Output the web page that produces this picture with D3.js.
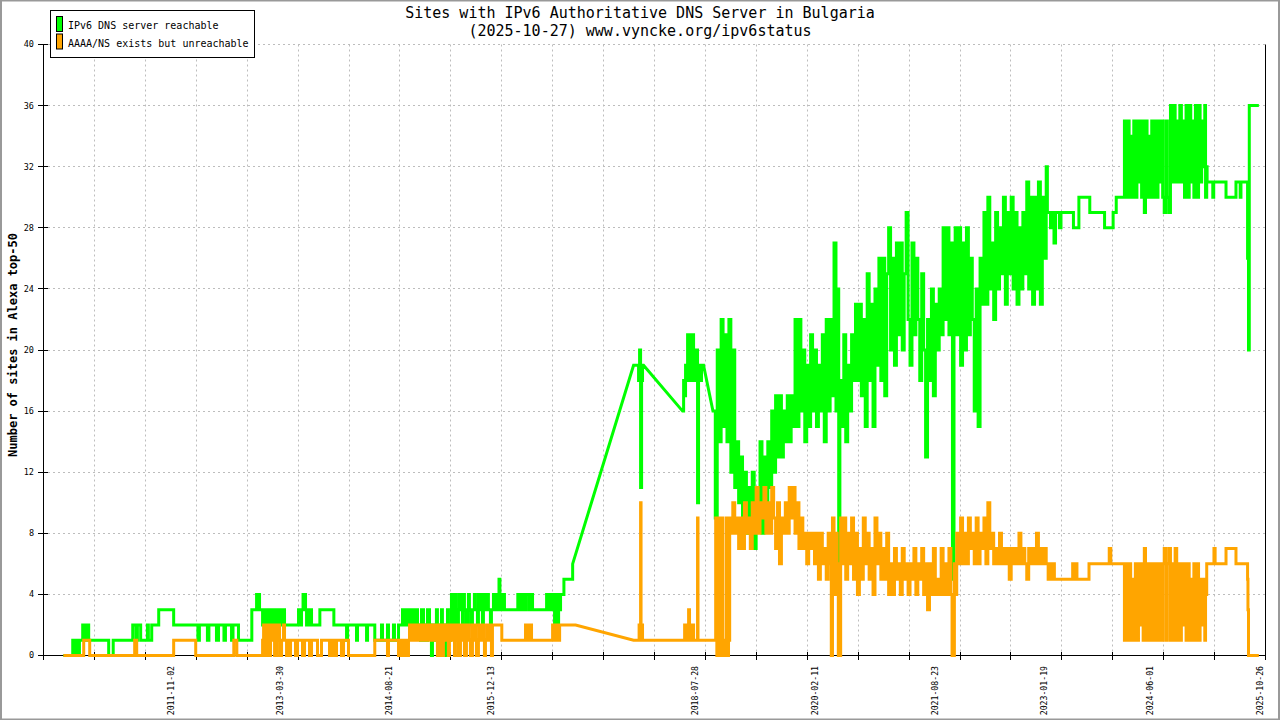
<!DOCTYPE html>
<html><head><meta charset="utf-8">
<script src="https://cdn.jsdelivr.net/npm/d3@7"></script>
<style>body{margin:0;background:#fff}svg{display:block}</style>
</head><body><svg id="c" width="1280" height="720"></svg>
<script>
// ---- DATA (decimal year, number of sites) ----
const titleLines = ["Sites with IPv6 Authoritative DNS Server in Bulgaria", "(2025-10-27) www.vyncke.org/ipv6status"];
const yAxisTitle = "Number of sites in Alexa top-50";
const seriesNames = ["IPv6 DNS server reachable", "AAAA/NS exists but unreachable"];
const yTickValues = [0,4,8,12,16,20,24,28,32,36,40];
const xLabelDates = ["2011-11-02","2013-03-30","2014-08-21","2015-12-13","2018-07-28","2020-02-11","2021-08-23","2023-01-19","2024-06-01","2025-10-26"];
const xDomain = ["2010-03-14","2025-11-22"];

const reachable = [
[2010.453,0],[2010.569,0],[2010.573,1],[2010.595,0],[2010.614,1],[2010.633,0],[2010.659,1],[2010.698,1],[2010.701,2],[2010.723,1],[2010.742,2],[2010.775,2],[2010.778,1],[2011.031,1],[2011.035,0],[2011.089,0],[2011.093,1],[2011.340,1],[2011.344,2],[2011.378,2],[2011.385,1],[2011.404,2],[2011.443,2],[2011.446,1],[2011.520,1],[2011.533,2],[2011.545,1],[2011.584,1],[2011.588,2],[2011.674,2],[2011.678,3],[2011.866,3],[2011.870,2],[2012.175,2],[2012.181,1],[2012.200,2],[2012.290,2],[2012.303,1],[2012.322,2],[2012.406,2],[2012.419,1],[2012.445,2],[2012.496,2],[2012.515,1],[2012.534,2],[2012.599,2],[2012.612,1],[2012.631,2],[2012.689,2],[2012.701,1],[2012.868,1],[2012.872,3],[2012.907,3],[2012.933,4],[2012.958,4],[2012.971,3],[2013.010,2],[2013.023,3],[2013.048,2],[2013.067,3],[2013.087,2],[2013.100,3],[2013.125,2],[2013.138,3],[2013.164,2],[2013.177,3],[2013.202,2],[2013.228,3],[2013.254,2],[2013.267,3],[2013.292,2],[2013.318,2],[2013.459,2],[2013.472,3],[2013.498,2],[2013.510,3],[2013.530,4],[2013.549,4],[2013.562,3],[2013.575,2],[2013.588,3],[2013.601,2],[2013.613,3],[2013.639,2],[2013.742,2],[2013.746,3],[2013.922,3],[2013.926,2],[2014.076,2],[2014.089,1],[2014.102,2],[2014.204,2],[2014.217,1],[2014.230,2],[2014.333,2],[2014.346,1],[2014.359,2],[2014.448,2],[2014.452,1],[2014.525,1],[2014.538,2],[2014.551,1],[2014.602,1],[2014.615,2],[2014.628,1],[2014.680,1],[2014.692,2],[2014.705,1],[2014.744,1],[2014.757,2],[2014.795,2],[2014.808,3],[2014.821,2],[2014.846,3],[2014.859,2],[2014.885,3],[2014.911,2],[2014.936,3],[2014.949,2],[2014.975,3],[2015.001,2],[2015.026,2],[2015.039,1],[2015.052,3],[2015.078,1],[2015.090,2],[2015.116,1],[2015.129,3],[2015.155,2],[2015.180,0],[2015.193,2],[2015.219,1],[2015.244,3],[2015.257,1],[2015.283,0],[2015.296,2],[2015.309,3],[2015.321,1],[2015.347,0],[2015.360,2],[2015.386,3],[2015.398,1],[2015.424,2],[2015.437,4],[2015.450,2],[2015.476,3],[2015.488,4],[2015.501,2],[2015.527,3],[2015.540,4],[2015.553,3],[2015.578,2],[2015.591,4],[2015.604,3],[2015.630,2],[2015.655,4],[2015.668,3],[2015.694,2],[2015.707,3],[2015.732,4],[2015.745,3],[2015.771,2],[2015.784,4],[2015.810,3],[2015.835,2],[2015.848,4],[2015.874,3],[2015.887,4],[2015.912,3],[2015.938,2],[2015.951,3],[2015.977,4],[2015.990,3],[2016.015,4],[2016.028,3],[2016.048,5],[2016.060,4],[2016.080,3],[2016.105,4],[2016.118,3],[2016.285,3],[2016.289,4],[2016.311,3],[2016.337,4],[2016.362,3],[2016.388,4],[2016.414,4],[2016.427,3],[2016.452,4],[2016.478,3],[2016.645,3],[2016.658,4],[2016.683,3],[2016.696,4],[2016.722,3],[2016.735,4],[2016.760,2],[2016.773,4],[2016.799,2],[2016.812,3],[2016.837,4],[2016.876,4],[2016.880,5],[2016.979,5],[2016.992,6],
[2017.775,19],[2017.826,19],[2017.839,18],[2017.852,20],[2017.865,11],[2017.878,18],[2017.890,19],[2017.903,19],[2018.405,16],[2018.418,18],[2018.431,17],[2018.443,19],[2018.456,18],[2018.469,21],[2018.482,19],[2018.494,21],[2018.507,18],[2018.520,20],[2018.533,21],[2018.546,18],[2018.559,20],[2018.571,19],[2018.584,20],[2018.597,10],[2018.610,19],[2018.636,18],[2018.648,19],[2018.674,19],[2018.795,16],
[2018.825,9],[2018.85,20],[2018.875,14],[2018.9,22],[2018.925,15],[2018.95,21],[2018.975,14],[2019,22],[2019.025,12],[2019.05,20],[2019.075,11],[2019.1,14],[2019.125,10],[2019.15,13],[2019.175,8],[2019.2,12],[2019.225,8],[2019.25,11],[2019.275,8],[2019.3,12],[2019.325,7],[2019.35,11],[2019.375,9],[2019.4,14],[2019.425,8],[2019.45,13],[2019.475,9],[2019.5,14],[2019.525,11],[2019.55,16],[2019.575,12],[2019.6,17],[2019.625,13],[2019.65,17],[2019.675,13],[2019.7,16],[2019.725,14],[2019.75,17],[2019.775,14],[2019.8,17],[2019.825,15],[2019.85,22],[2019.875,15],[2019.9,22],[2019.925,16],[2019.95,20],[2019.975,14],[2020,19],[2020.025,15],[2020.05,21],[2020.075,16],[2020.1,20],[2020.125,15],[2020.15,19],[2020.175,16],[2020.2,21],[2020.225,14],[2020.25,22],[2020.275,16],[2020.3,22],[2020.325,17],[2020.35,27],[2020.375,16],[2020.4,24],[2020.41,5],[2020.425,18],[2020.45,15],[2020.475,21],[2020.5,14],[2020.525,19],[2020.55,16],[2020.575,21],[2020.6,18],[2020.625,23],[2020.65,18],[2020.675,23],[2020.7,17],[2020.725,22],[2020.75,15],[2020.775,25],[2020.8,18],[2020.825,23],[2020.85,15],[2020.875,24],[2020.9,19],[2020.925,26],[2020.95,18],[2020.975,26],[2021,17],[2021.025,25],[2021.05,28],[2021.075,20],[2021.1,26],[2021.125,19],[2021.15,27],[2021.175,21],[2021.2,27],[2021.225,20],[2021.25,25],[2021.275,29],[2021.3,22],[2021.325,19],[2021.35,27],[2021.375,21],[2021.4,26],[2021.425,22],[2021.45,18],[2021.475,25],[2021.5,20],[2021.525,13],[2021.55,22],[2021.575,18],[2021.6,24],[2021.625,17],[2021.65,23],[2021.675,20],[2021.7,24],[2021.725,21],[2021.75,28],[2021.775,22],[2021.8,28],[2021.825,21],[2021.85,27],[2021.87,5],[2021.89,24],[2021.905,28],[2021.925,21],[2021.95,28],[2021.975,19],[2022,27],[2022.025,20],[2022.05,28],[2022.075,21],[2022.1,26],[2022.125,22],[2022.15,16],[2022.175,24],[2022.2,15],[2022.225,26],[2022.25,23],[2022.275,29],[2022.3,23],[2022.325,30],[2022.35,24],[2022.375,27],[2022.4,22],[2022.425,29],[2022.45,24],[2022.475,28],[2022.5,25],[2022.525,30],[2022.55,23],[2022.575,29],[2022.6,25],[2022.625,30],[2022.65,24],[2022.675,29],[2022.7,23],[2022.725,28],[2022.75,24],[2022.775,29],[2022.8,25],[2022.825,31],[2022.85,24],[2022.875,30],[2022.9,23],[2022.925,30],[2022.95,24],[2022.975,31],[2023,23],[2023.025,30],[2023.05,26],[2023.075,32],[2023.09,29],
[2023.125,29],[2023.13,28],[2023.14,28],[2023.145,29],[2023.17,29],[2023.175,27],[2023.19,27],[2023.195,29],[2023.24,29],[2023.245,28],[2023.26,28],[2023.265,29],[2023.42,29],[2023.425,28],[2023.49,28],[2023.495,30],[2023.63,30],[2023.635,29],[2023.82,29],[2023.825,28],[2023.93,28],[2023.935,29],[2023.97,29],[2023.975,30],[2024.07,30],
[2024.08,35],[2024.1,30],[2024.12,35],[2024.14,30],[2024.16,34],[2024.18,30],[2024.2,35],[2024.22,30],[2024.24,35],[2024.26,31],[2024.28,35],[2024.3,30],[2024.32,35],[2024.335,29],[2024.35,35],[2024.37,30],[2024.39,34],[2024.41,30],[2024.43,35],[2024.45,30],[2024.47,35],[2024.49,30],[2024.51,35],[2024.53,31],[2024.55,35],[2024.57,30],[2024.59,29],[2024.61,35],[2024.63,30],[2024.65,29],[2024.67,36],[2024.69,31],[2024.71,36],[2024.73,31],[2024.75,35],[2024.77,31],[2024.79,36],[2024.81,31],[2024.83,35],[2024.85,30],[2024.87,36],[2024.89,30],[2024.91,36],[2024.93,31],[2024.95,35],[2024.97,30],[2024.99,36],[2025.01,30],[2025.03,36],[2025.05,31],[2025.07,35],[2025.09,32],[2025.11,36],[2025.12,30],[2025.135,32],[2025.14,31],
[2025.15,31],[2025.21,31],[2025.213,30],[2025.22,30],[2025.225,31],[2025.379,31],[2025.383,30],[2025.507,30],[2025.511,31],[2025.56,31],[2025.565,30],[2025.575,31],[2025.65,31],[2025.66,26],[2025.672,20],[2025.682,36],[2025.805,36]
];

const unreachable = [
[2010.453,0],[2010.710,0],[2010.714,1],[2010.787,1],[2010.791,0],[2011.365,0],[2011.369,1],[2011.391,1],[2011.395,0],[2011.866,0],[2011.870,1],[2012.149,1],[2012.153,0],[2012.637,0],[2012.641,1],[2012.676,1],[2012.680,0],[2012.997,0],[2013.010,1],[2013.023,2],[2013.035,0],[2013.061,2],[2013.074,1],[2013.087,0],[2013.112,2],[2013.125,1],[2013.151,2],[2013.164,0],[2013.189,1],[2013.202,2],[2013.228,0],[2013.254,1],[2013.279,2],[2013.292,1],[2013.318,0],[2013.344,1],[2013.357,0],[2013.369,1],[2013.421,1],[2013.433,0],[2013.459,1],[2013.510,1],[2013.523,0],[2013.549,1],[2013.601,1],[2013.613,0],[2013.639,1],[2013.703,1],[2013.716,0],[2013.754,0],[2013.767,1],[2013.857,1],[2013.870,0],[2013.896,1],[2013.922,1],[2013.934,0],[2013.960,1],[2014.011,1],[2014.024,0],[2014.050,1],[2014.102,1],[2014.114,0],[2014.448,0],[2014.452,1],[2014.602,1],[2014.615,0],[2014.628,1],[2014.744,1],[2014.757,0],[2014.782,1],[2014.808,0],[2014.834,1],[2014.859,0],[2014.885,1],[2014.898,2],[2014.911,1],[2014.936,2],[2014.949,1],[2014.975,2],[2014.988,1],[2015.013,2],[2015.026,1],[2015.052,2],[2015.065,1],[2015.090,2],[2015.103,1],[2015.129,2],[2015.142,1],[2015.167,2],[2015.180,1],[2015.206,2],[2015.219,1],[2015.244,2],[2015.257,0],[2015.283,2],[2015.296,1],[2015.321,0],[2015.334,2],[2015.360,1],[2015.373,2],[2015.398,0],[2015.411,2],[2015.437,1],[2015.450,2],[2015.476,0],[2015.488,1],[2015.514,2],[2015.527,0],[2015.553,2],[2015.565,1],[2015.591,2],[2015.604,0],[2015.630,1],[2015.642,2],[2015.668,1],[2015.681,0],[2015.707,2],[2015.720,1],[2015.745,2],[2015.758,0],[2015.784,1],[2015.797,2],[2015.822,1],[2015.835,2],[2015.861,0],[2015.874,1],[2015.900,2],[2015.912,1],[2015.938,2],[2015.951,0],[2015.964,2],[2015.990,2],[2016.080,2],[2016.084,1],[2016.375,1],[2016.388,2],[2016.414,1],[2016.440,2],[2016.465,1],[2016.722,1],[2016.735,2],[2016.760,1],[2016.786,2],[2016.812,1],[2016.825,2],[2017.030,2],
[2017.775,1],[2017.839,1],[2017.846,2],[2017.858,2],[2017.865,10],[2017.871,1],[2017.878,2],[2017.890,1],[2018.418,1],[2018.431,2],[2018.443,1],[2018.456,2],[2018.469,1],[2018.482,3],[2018.494,1],[2018.507,2],[2018.520,1],[2018.533,2],[2018.546,1],[2018.584,1],[2018.597,9],[2018.603,1],[2018.820,1],
[2018.83,9],[2018.845,0],[2018.86,9],[2018.875,0],[2018.89,1],[2018.905,9],[2018.92,0],[2018.935,1],[2018.95,0],[2018.965,9],[2018.98,0],[2018.995,1],[2019.01,9],[2019.025,8],[2019.05,10],[2019.075,8],[2019.1,9],[2019.125,7],[2019.15,9],[2019.175,7],[2019.2,10],[2019.225,8],[2019.25,9],[2019.275,7],[2019.3,10],[2019.325,8],[2019.35,11],[2019.375,8],[2019.4,10],[2019.425,9],[2019.45,11],[2019.475,8],[2019.5,10],[2019.525,8],[2019.55,11],[2019.575,9],[2019.6,7],[2019.625,10],[2019.65,6],[2019.675,9],[2019.7,8],[2019.725,10],[2019.75,8],[2019.775,11],[2019.8,9],[2019.825,11],[2019.85,8],[2019.875,10],[2019.9,7],[2019.925,9],[2019.95,7],[2019.975,8],[2020,6],[2020.025,8],[2020.05,7],[2020.075,8],[2020.1,6],[2020.125,8],[2020.15,5],[2020.175,8],[2020.2,6],[2020.225,7],[2020.25,5],[2020.275,8],[2020.3,6],[2020.315,0],[2020.33,9],[2020.35,4],[2020.37,8],[2020.39,6],[2020.405,0],[2020.42,0],[2020.435,9],[2020.45,6],[2020.475,9],[2020.5,5],[2020.525,8],[2020.55,6],[2020.575,9],[2020.6,5],[2020.625,8],[2020.65,4],[2020.675,7],[2020.7,5],[2020.725,9],[2020.75,6],[2020.775,8],[2020.8,5],[2020.825,7],[2020.85,4],[2020.875,9],[2020.9,6],[2020.925,8],[2020.95,5],[2020.975,7],[2021,5],[2021.025,8],[2021.05,4],[2021.075,6],[2021.1,4],[2021.125,7],[2021.15,5],[2021.175,6],[2021.2,4],[2021.225,7],[2021.25,5],[2021.275,6],[2021.3,4],[2021.325,6],[2021.35,5],[2021.375,7],[2021.4,4],[2021.425,6],[2021.45,5],[2021.475,7],[2021.5,4],[2021.525,6],[2021.55,3],[2021.575,6],[2021.6,4],[2021.625,7],[2021.65,4],[2021.675,5],[2021.7,4],[2021.725,7],[2021.75,4],[2021.775,6],[2021.8,4],[2021.825,7],[2021.85,4],[2021.865,0],[2021.88,0],[2021.895,6],[2021.91,4],[2021.925,8],[2021.95,6],[2021.975,9],[2022,6],[2022.025,8],[2022.05,6],[2022.075,9],[2022.1,7],[2022.125,8],[2022.15,6],[2022.175,9],[2022.2,6],[2022.225,8],[2022.25,7],[2022.275,9],[2022.3,6],[2022.325,10],[2022.35,7],[2022.375,8],[2022.4,6],[2022.425,7],[2022.45,6],[2022.475,8],[2022.5,6],[2022.525,7],[2022.55,6],[2022.575,7],[2022.6,5],[2022.625,7],[2022.65,6],[2022.675,7],[2022.7,6],[2022.725,8],[2022.75,6],[2022.775,7],[2022.8,6],[2022.825,5],[2022.85,7],[2022.875,6],[2022.9,7],[2022.925,6],[2022.95,8],[2022.975,6],[2023,7],[2023.025,6],[2023.05,7],[2023.075,6],[2023.09,6],
[2023.1,5],[2023.12,6],[2023.14,5],[2023.16,6],[2023.18,5],[2023.41,5],[2023.415,6],[2023.43,5],[2023.45,6],[2023.47,5],[2023.62,5],[2023.625,6],[2023.88,6],[2023.885,7],[2023.9,7],[2023.905,6],[2024.07,6],
[2024.08,1],[2024.1,6],[2024.12,1],[2024.14,6],[2024.16,1],[2024.18,5],[2024.2,1],[2024.22,6],[2024.24,1],[2024.26,6],[2024.28,2],[2024.3,6],[2024.32,1],[2024.335,7],[2024.35,1],[2024.37,6],[2024.39,1],[2024.41,6],[2024.43,1],[2024.45,6],[2024.47,1],[2024.49,6],[2024.51,1],[2024.53,6],[2024.55,1],[2024.57,6],[2024.59,7],[2024.61,1],[2024.63,6],[2024.65,7],[2024.67,1],[2024.69,6],[2024.71,1],[2024.73,7],[2024.75,1],[2024.77,6],[2024.79,1],[2024.81,6],[2024.83,2],[2024.85,6],[2024.87,1],[2024.89,6],[2024.91,1],[2024.93,5],[2024.95,1],[2024.97,6],[2024.99,1],[2025.01,6],[2025.03,1],[2025.05,5],[2025.07,2],[2025.09,5],[2025.11,1],[2025.12,4],[2025.135,6],
[2025.15,6],[2025.225,6],[2025.228,7],[2025.24,7],[2025.243,6],[2025.379,6],[2025.383,7],[2025.507,7],[2025.511,6],[2025.65,6],[2025.66,5],[2025.665,3],[2025.672,0],[2025.805,0]
];

// ---- RENDERING ----
const GREEN = "#00ff00", ORANGE = "#ffa500";
const FONT = "'DejaVu Sans Mono', 'Liberation Mono', monospace";

function yearToDate(v) {
  const Y = Math.floor(v);
  const a = Date.UTC(Y, 0, 1), b = Date.UTC(Y + 1, 0, 1);
  return new Date(a + (v - Y) * (b - a));
}
const parse = d3.utcParse("%Y-%m-%d");

// step between closely spaced samples, straight line across data gaps
function curveStepGap(context) {
  let px, py, started;
  return {
    areaStart() {}, areaEnd() {},
    lineStart() { started = false; },
    lineEnd() {},
    point(xv, yv) {
      if (!started) { context.moveTo(xv, yv); started = true; }
      else if (xv - px < 4) { context.lineTo(xv, py); context.lineTo(xv, yv); }
      else { context.lineTo(xv, yv); }
      px = xv; py = yv;
    }
  };
}

const svg = d3.select("#c");
const pL = 43.5, pR = 1265.5, pT = 44.5, pB = 655.5;

const x = d3.scaleUtc().domain(xDomain.map(parse)).range([pL, pR]);
const y = d3.scaleLinear().domain([0, 40]).range([pB, pT]);
const crisp = v => Math.round(v - 0.5) + 0.5;

// outer frame
svg.append("rect").attr("x", 1).attr("y", 0.5).attr("width", 1278).attr("height", 719)
  .attr("fill", "#fff").attr("stroke", "#999").attr("stroke-width", 2);

// x ticks: 24 equal intervals across the domain
const d0 = x.domain()[0].getTime(), d1 = x.domain()[1].getTime();
const xTickDates = d3.range(25).map(i => new Date(d0 + i * (d1 - d0) / 24));

const grid = svg.append("g").attr("stroke", "#bdbdbd").attr("stroke-width", 1).attr("stroke-dasharray", "2,3");
grid.selectAll("line.hg").data(yTickValues.filter(v => v > 0)).join("line").attr("class", "hg")
  .attr("x1", 48).attr("x2", pR).attr("y1", d => crisp(y(d))).attr("y2", d => crisp(y(d)));
grid.selectAll("line.vg").data(xTickDates.slice(1, 24)).join("line").attr("class", "vg")
  .attr("x1", d => crisp(x(d))).attr("x2", d => crisp(x(d))).attr("y1", pT).attr("y2", pB - 2);

// axes
const ax = svg.append("g").attr("stroke", "#000").attr("stroke-width", 1);
ax.append("line").attr("x1", pL).attr("x2", pL).attr("y1", pT).attr("y2", 660);
ax.append("line").attr("x1", 38).attr("x2", pR).attr("y1", pB).attr("y2", pB);
ax.append("line").attr("x1", pR).attr("x2", pR).attr("y1", pT).attr("y2", pB);
ax.selectAll("line.yt").data(yTickValues).join("line").attr("class", "yt")
  .attr("x1", 38).attr("x2", 48).attr("y1", d => crisp(y(d))).attr("y2", d => crisp(y(d)));
ax.selectAll("line.xt").data(xTickDates).join("line").attr("class", "xt")
  .attr("x1", d => crisp(x(d))).attr("x2", d => crisp(x(d))).attr("y1", 652).attr("y2", 660);

// y tick labels
svg.append("g").selectAll("text").data(yTickValues).join("text")
  .attr("x", 34).attr("y", d => y(d)).attr("dy", "0.35em")
  .attr("text-anchor", "end").attr("font-family", FONT).attr("font-size", 8.5)
  .attr("fill", "#000").text(d => d);

// x labels
svg.append("g").selectAll("text").data(xLabelDates).join("text")
  .attr("transform", d => `translate(${x(parse(d))},666) rotate(-90)`)
  .attr("dy", "0.35em").attr("text-anchor", "end")
  .attr("font-family", FONT).attr("font-size", 8.2).attr("fill", "#000").text(d => d);

// y axis title
svg.append("text").attr("transform", "translate(13,345) rotate(-90)")
  .attr("text-anchor", "middle").attr("dy", "0.35em")
  .attr("font-family", FONT).attr("font-weight", "bold").attr("font-size", 12)
  .attr("fill", "#000").text(yAxisTitle);

// title
svg.append("g").selectAll("text").data(titleLines).join("text")
  .attr("x", 640).attr("y", (d, i) => 18 + i * 18).attr("text-anchor", "middle")
  .attr("font-family", FONT).attr("font-size", 15).attr("fill", "#000").text(d => d);

// lines
const line = d3.line().x(d => x(yearToDate(d[0]))).y(d => y(d[1])).curve(curveStepGap);
svg.append("path").datum(reachable).attr("d", line).attr("fill", "none")
  .attr("stroke", GREEN).attr("stroke-width", 3).attr("stroke-linejoin", "miter");
svg.append("path").datum(unreachable).attr("d", line).attr("fill", "none")
  .attr("stroke", ORANGE).attr("stroke-width", 3).attr("stroke-linejoin", "miter");

// legend
const lg = svg.append("g");
lg.append("rect").attr("x", 50.5).attr("y", 10.5).attr("width", 204).attr("height", 47)
  .attr("fill", "#fff").attr("stroke", "#000");
[GREEN, ORANGE].forEach((c, i) => {
  lg.append("rect").attr("x", 56.5).attr("y", 16.5 + i * 17.5).attr("width", 6).attr("height", 15)
    .attr("fill", c).attr("stroke", "#000");
  lg.append("text").attr("x", 68).attr("y", 29 + i * 17.5)
    .attr("font-family", FONT).attr("font-size", 10).attr("fill", "#000").text(seriesNames[i]);
});
</script>
</body></html>
